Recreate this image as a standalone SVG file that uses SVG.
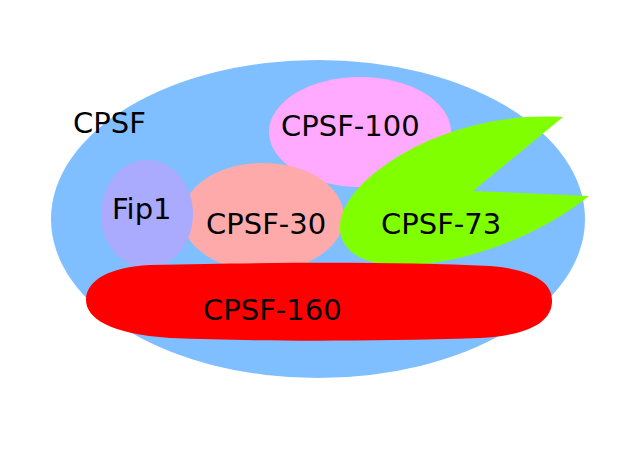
<svg xmlns="http://www.w3.org/2000/svg" width="640" height="465" viewBox="0 0 640 465">
<style>
text{font-family:"DejaVu Sans","Liberation Sans",sans-serif;font-size:29px;fill:#000}
</style>
<rect width="640" height="465" fill="#fff"/>
<g id="cpsf">
<ellipse cx="318" cy="219" rx="267" ry="159" fill="#80bfff"/>
<text x="73" y="133">CPSF</text>
</g>
<g id="cpsf100">
<ellipse cx="360" cy="132" rx="91" ry="55" fill="#ffaaff"/>
<text x="281" y="136">CPSF-100</text>
</g>
<g id="cpsf30">
<ellipse cx="263" cy="217" rx="81" ry="54" fill="#ffaaaa"/>
<text x="206" y="234">CPSF-30</text>
</g>
<g id="fip1">
<ellipse cx="147" cy="214" rx="46" ry="54" fill="#aaaaff"/>
<text x="112" y="219">Fip1</text>
</g>
<g id="cpsf73">
<path d="M 563 117 L 473 191 L 589 196 C 540 235 470 262 410 265 C 360 268 338 248 340 225 C 342 195 380 162 430 140 C 478 120 520 115 563 117 Z" fill="#80ff00"/>
<text x="381" y="234">CPSF-73</text>
</g>
<g id="cpsf160">
<path d="M 150 265 C 300 262 400 262 490 266 C 538 270 553 285 552 302 C 551 322 530 335 480 338 C 350 342 250 341 170 338 C 110 334 86 318 86 300 C 86 280 110 267 150 265 Z" fill="#ff0000"/>
<text x="203" y="320">CPSF-160</text>
</g>
<g id="connectors"/>
</svg>
